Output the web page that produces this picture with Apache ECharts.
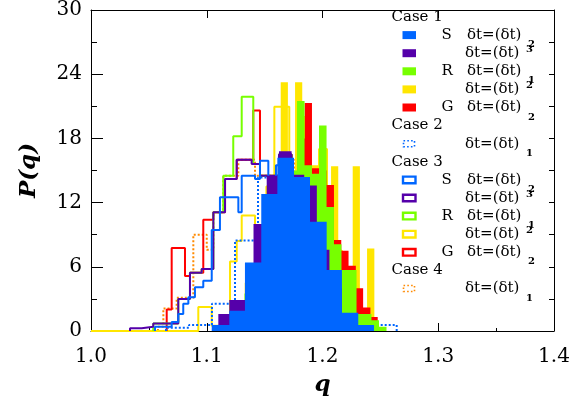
<!DOCTYPE html>
<html><head><meta charset="utf-8">
<script src="https://cdn.jsdelivr.net/npm/echarts@6/dist/echarts.min.js"></script>
<style>html,body{margin:0;padding:0;background:#fff}#c{width:588px;height:405px}</style>
</head><body><div id="c"></div>
<script>
// ---- tick labels ----
const xTickLabels = ['1.0','1.1','1.2','1.3','1.4'];
const yTickLabels = ['0','6','12','18','24','30'];

// ---- histograms: [left bin edge q, P(q)] ; last entry closes the histogram ----
// Case 1 (filled)
const case1S_dt2 = [[1.1043,0.55],[1.1195,1.9],[1.1330,6.4],[1.1471,12.8],[1.1610,16.2],[1.1754,14.4],[1.1892,10.2],[1.2036,5.7],[1.2168,1.7],[1.2309,0.55],[1.2445,0]];
const case1S_dt3 = [[1.1100,1.6],[1.1195,2.9],[1.1404,10],[1.1518,14.5],[1.1624,16.8],[1.1733,14.6],[1.1842,13.6],[1.1951,7.6],[1.2060,4],[1.2168,1.2],[1.2277,0.3],[1.2386,0]];
const case1R_dt1 = [[1.1067,0.2],[1.1132,0.5],[1.1197,1],[1.1261,2],[1.1326,3.5],[1.1391,5.5],[1.1456,8],[1.1521,10.5],[1.1585,12.5],[1.1650,14],[1.1715,15],[1.1780,21.5],[1.1845,15.5],[1.1909,14.7],[1.1970,19.2],[1.2035,11.6],[1.2099,8.1],[1.2164,5.7],[1.2229,5.7],[1.2294,1.6],[1.2359,1.6],[1.2423,1.0],[1.2488,0.4],[1.2553,0]];
const case1R_dt2 = [[1.1079,0.4],[1.1141,1],[1.1203,1.5],[1.1266,2.5],[1.1328,4.5],[1.1390,6],[1.1452,9.5],[1.1514,12.5],[1.1577,13],[1.1639,23.25],[1.1701,14],[1.1763,23.25],[1.1825,18],[1.1888,15.5],[1.1950,15.5],[1.2012,11],[1.2074,15.4],[1.2136,6],[1.2199,4],[1.2261,15.4],[1.2323,1.2],[1.2385,7.7],[1.2448,0]];
const case1G_dt2 = [[1.1152,0.3],[1.1216,0.8],[1.1279,1.8],[1.1342,3.5],[1.1405,6],[1.1468,8.5],[1.1531,11],[1.1594,13],[1.1657,14.5],[1.1720,14.8],[1.1783,18],[1.1846,21.3],[1.1909,15.2],[1.1972,15],[1.2035,13.65],[1.2099,8.5],[1.2162,7.5],[1.2225,6.1],[1.2288,4.0],[1.2351,2.2],[1.2414,1.3],[1.2477,0]];
// Case 2 (dotted)
const case2_dt1 = [[1.0648,0.3],[1.0847,0.55],[1.1045,2.55],[1.1244,8.45],[1.1443,14.35],[1.1542,14],[1.1641,15.5],[1.1741,14],[1.1840,12],[1.1940,9.5],[1.2039,5],[1.2138,3],[1.2238,1.5],[1.2337,1],[1.2436,0.55],[1.2641,0]];
// Case 3 (open)
const case3S_dt2 = [[1.0553,0.4],[1.0697,0.85],[1.0754,1.6],[1.0797,2.55],[1.0841,3.15],[1.0898,4.1],[1.0970,4.7],[1.1043,9.45],[1.1114,12.5],[1.1273,11.1],[1.1302,14.5],[1.1417,14.2],[1.1460,15.9],[1.1532,14.4],[1.1598,15.5],[1.1719,13.5],[1.1849,9],[1.1978,5],[1.2108,1.5],[1.2238,0.4],[1.2341,0]];
const case3S_dt3 = [[1.0337,0.25],[1.0438,0.4],[1.0538,0.7],[1.0754,3.0],[1.0855,5.45],[1.0956,5.8],[1.1057,11.1],[1.1158,14.2],[1.1259,16.0],[1.1388,15.6],[1.1460,14.5],[1.1624,16.5],[1.1733,14],[1.1849,10],[1.1978,6],[1.2108,2],[1.2238,0.5],[1.2341,0]];
const case3R_dt1 = [[1.0538,0.7],[1.0754,3.0],[1.0855,5.45],[1.0956,5.8],[1.1057,11.1],[1.1143,14.5],[1.1229,18.2],[1.1302,21.9],[1.1402,15.6],[1.1460,14.5],[1.1624,16.5],[1.1733,14],[1.1849,10],[1.1978,6],[1.2108,2],[1.2238,0.5],[1.2341,0]];
const case3R_dt2 = [[1.0,0],[1.0927,2.25],[1.1043,0.5],[1.1201,6.5],[1.1259,8.4],[1.1302,10.8],[1.1417,9.5],[1.1515,13.5],[1.1584,20.95],[1.1713,14.5],[1.1780,20],[1.1849,15],[1.1909,14],[1.1970,17],[1.2039,11],[1.2099,7.5],[1.2168,5],[1.2289,1.2],[1.2445,0]];
const case3G_dt2 = [[1.0654,2.0],[1.0697,7.75],[1.0812,5.15],[1.0855,5.45],[1.0970,10.4],[1.1057,11.1],[1.1158,14.2],[1.1259,16.0],[1.1402,20.6],[1.1460,14.5],[1.1624,16.5],[1.1733,14],[1.1849,10],[1.1978,6],[1.2108,2],[1.2238,0.5],[1.2341,0]];
// Case 4 (dotted)
const case4_dt1 = [[1.0579,0.4],[1.0625,2.1],[1.0740,3.1],[1.0884,9.0],[1.1000,7.6],[1.1057,11.1],[1.1143,14.5],[1.1273,16.0],[1.1417,14.5],[1.1633,16],[1.1754,14],[1.1892,10],[1.2030,5.5],[1.2168,1.5],[1.2307,0.5],[1.2445,0]];

// ---- legend text ----
const legendHeads = ['Case 1','Case 2','Case 3','Case 4'];
const legendLetters = ['S','','R','','G'];
const legendDigits = ['2','3','1','2','2'];

// ---- styling ----
const C = {blue:'#0066ff', purple:'#5500aa', green:'#77ff00', yellow:'#ffe600', red:'#ff0000', orange:'#ff8a00'};
const SERIF = '"DejaVu Serif", "Liberation Serif", serif';

function steps(pairs){ return [[pairs[0][0],0]].concat(pairs); }
function outline(name, pairs, color, dash){
  return {name, type:'line', step:'end', data:steps(pairs), symbol:'none', silent:true,
    lineStyle:{color, width:2, type: dash ? [2,2] : 'solid', cap:'butt'}, z:2};
}
function filled(name, pairs, color){
  return {name, type:'line', step:'end', data:steps(pairs), symbol:'none', silent:true,
    lineStyle:{width:0, opacity:0}, areaStyle:{color, opacity:1, origin:'start'}, z:3};
}

const series = [
  outline('c4', case4_dt1, C.orange, true),
  outline('c3Ry', case3R_dt2, C.yellow, false),
  outline('c3G', case3G_dt2, C.red, false),
  outline('c3Rg', case3R_dt1, C.green, false),
  outline('c3Sp', case3S_dt3, C.purple, false),
  outline('c3Sb', case3S_dt2, C.blue, false),
  outline('c2', case2_dt1, C.blue, true),
  filled('c1Ry', case1R_dt2, C.yellow),
  filled('c1G', case1G_dt2, C.red),
  filled('c1Rg', case1R_dt1, C.green),
  filled('c1Sp', case1S_dt3, C.purple),
  filled('c1Sb', case1S_dt2, C.blue)
];

// ---- legend graphics ----
const graphic = [];
const rowY = i => 17 + i*18.1;
const txt = (x, y, s, size, extra) => Object.assign({type:'text', x, y, silent:true,
  style:{text:s, font: size+'px '+SERIF, fill:'#000', align:'left', verticalAlign:'middle'}, z:10}, extra||{});
function swatch(kind, color, y){
  if (kind==='fill') return {type:'rect', silent:true, z:10, shape:{x:402.5,y:y-4,width:13.5,height:8}, style:{fill:color}};
  if (kind==='open') return {type:'rect', silent:true, z:10, shape:{x:403,y:y-3.3,width:12.5,height:6.6}, style:{fill:'#fff', stroke:color, lineWidth:2.4}};
  return {type:'rect', silent:true, z:10, shape:{x:403.5,y:y-3,width:11,height:6}, style:{fill:'none', stroke:color, lineWidth:1.6, lineDash:[1.6,2.2]}};
}
function addRow(i, kind, color, letter, digit, sub){
  const y = rowY(i);
  graphic.push(swatch(kind, color, y));
  if (letter) graphic.push(txt(441.5, y, letter, 15));
  graphic.push(txt(letter ? 467 : 465, y, 'δt=(δt)', 15));
  graphic.push({type:'text', silent:true, z:10, x: letter ? 528 : 526, y: y + (sub ? 9.5 : -3.5),
    style:{text:digit, font:'bold 10px '+SERIF, fill:'#000', align:'left', verticalAlign:'middle'}});
}
const case1Colors = [C.blue, C.purple, C.green, C.yellow, C.red];
graphic.push(txt(391.5, rowY(0), legendHeads[0], 15));
for (let k=0;k<5;k++) addRow(1+k, 'fill', case1Colors[k], legendLetters[k], legendDigits[k], k%2===0);
graphic.push(txt(391.5, rowY(6), legendHeads[1], 15));
addRow(7, 'dot', C.blue, '', '1', true);
graphic.push(txt(391.5, rowY(8), legendHeads[2], 15));
for (let k=0;k<5;k++) addRow(9+k, 'open', case1Colors[k], legendLetters[k], legendDigits[k], k%2===0);
graphic.push(txt(391.5, rowY(14), legendHeads[3], 15));
addRow(15, 'dot', C.orange, '', '1', true);

const axisLine = {show:true, onZero:false, lineStyle:{color:'#000', width:1}};
const option = {
  animation:false,
  backgroundColor:'#fff',
  grid:{left:91, right:34, top:5, bottom:74, containLabel:false},
  xAxis:[
    {type:'value', min:1.0, max:1.4, interval:0.1, position:'bottom', axisLine,
     axisTick:{show:true, inside:true, length:8, lineStyle:{color:'#000'}},
     minorTick:{show:true, splitNumber:2, length:3, lineStyle:{color:'#000'}},
     splitLine:{show:false},
     axisLabel:{formatter:v=>xTickLabels[Math.round((v-1.0)/0.1)], fontFamily:SERIF, fontSize:20, color:'#000', margin:16},
     name:'q', nameLocation:'middle', nameGap:43,
     nameTextStyle:{fontFamily:SERIF, fontStyle:'italic', fontWeight:'bold', fontSize:23, color:'#000'}},
    {type:'value', min:1.0, max:1.4, interval:0.1, position:'top', axisLine,
     axisTick:{show:true, inside:true, length:8, lineStyle:{color:'#000'}},
     axisLabel:{show:false}, splitLine:{show:false}}
  ],
  yAxis:[
    {type:'value', min:0, max:30, interval:6, position:'left', axisLine,
     axisTick:{show:true, inside:true, length:12, lineStyle:{color:'#000'}},
     minorTick:{show:true, splitNumber:2, length:6, lineStyle:{color:'#000'}},
     splitLine:{show:false},
     axisLabel:{formatter:v=>yTickLabels[Math.round(v/6)], fontFamily:SERIF, fontSize:20, color:'#000', margin:9},
     name:'P(q)', nameLocation:'middle', nameGap:50,
     nameTextStyle:{fontFamily:SERIF, fontStyle:'italic', fontWeight:'bold', fontSize:23, color:'#000'}},
    {type:'value', min:0, max:30, interval:3, position:'right', axisLine,
     axisTick:{show:true, inside:true, length:5, lineStyle:{color:'#000'}},
     axisLabel:{show:false}, splitLine:{show:false}}
  ],
  series,
  graphic
};
const chart = echarts.init(document.getElementById('c'), null, {renderer:'canvas'});
chart.setOption(option);
</script></body></html>
